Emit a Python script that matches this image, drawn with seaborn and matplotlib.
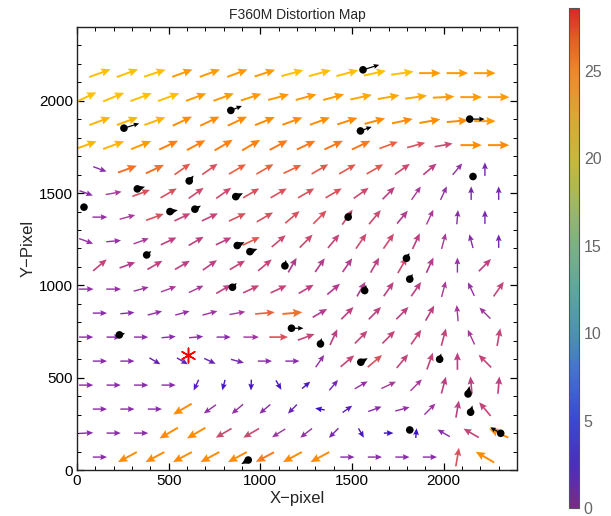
import numpy as np
import pandas as pd
import matplotlib
matplotlib.use("Agg")
import matplotlib.pyplot as plt
import seaborn as sns
from matplotlib.colors import LinearSegmentedColormap, Normalize
from matplotlib.cm import ScalarMappable
from matplotlib.ticker import MultipleLocator

sns.set_style("ticks")
plt.rcParams["font.family"] = ["Liberation Sans", "DejaVu Sans"]

# =========================
# Data
# =========================

# grid rows (y pixel) and the two staggered column sets
row_y = [70, 200, 330, 460, 590, 720, 850, 980, 1110, 1240, 1370, 1500,
         1630, 1760, 1890, 2020, 2150]
x_even = [125, 275, 425, 575, 725, 875, 1025, 1175, 1325, 1475, 1625, 1775,
          1925, 2075, 2225]
x_odd = [50, 200, 350, 500, 650, 800, 950, 1100, 1250, 1400, 1550, 1700,
         1850, 2000, 2150, 2300]

# direction (deg) of each distortion vector, bottom row first
angle_deg = [
    [0, 208, 208, 208, 208, 208, 208, 208, 208, 0, 0, 0, 0, 80, 150],
    [3, 0, 0, 210, 210, 210, 210, 212, 218, 225, 300, 0, 85, 150, 150, 155],
    [0, 0, 0, 210, 215, 220, 220, 225, 170, 35, 20, 15, 45, 80, 130],
    [0, 0, 0, 0, 245, 255, 268, 300, 40, 50, 30, 25, 45, 75, 95, 85],
    [0, 0, -30, -30, -25, -15, 0, 0, 55, 40, 40, 50, 70, 90, 135],
    [0, 0, 0, 5, 5, 0, 0, 0, 20, 65, 45, 45, 55, 75, 115, 80],
    [0, 5, 15, 15, 15, 10, 5, 5, 30, 45, 45, 45, 60, 95, 135],
    [0, 0, 15, 20, 25, 30, 25, 25, 30, 40, 60, 55, 55, 75, 115, 55],
    [40, 20, 30, 30, 35, 30, 40, 60, 55, 55, 60, 60, 65, 90, 45],
    [-20, 5, 20, 25, 30, 25, 25, 40, 45, 50, 55, 55, 65, 75, 105, 90],
    [0, 15, 20, 25, 25, 25, 30, 40, 45, 55, 50, 50, 65, 85, 90],
    [-20, 10, 20, 30, 35, 35, 30, 30, 30, 30, 35, 45, 55, 65, 90, 90],
    [-20, 20, 25, 35, 35, 30, 30, 25, 30, 30, 30, 35, 40, 50, 90],
    [20, 20, 22, 25, 28, 30, 30, 28, 25, 25, 25, 20, 15, 10, 0, 0],
    [20, 20, 20, 25, 25, 25, 22, 20, 20, 18, 15, 12, 10, 5, 0],
    [25, 22, 20, 20, 20, 20, 18, 15, 15, 15, 12, 10, 8, 3, 0, 0],
    [20, 20, 18, 20, 20, 20, 18, 15, 15, 15, 12, 8, 0, 0, 0],
]

# size of each distortion vector
magnitude = [
    [8, 22, 22, 22, 22, 22, 20, 22, 22, 8, 8, 8, 8, 16, 22],
    [8, 8, 8, 22, 22, 15, 15, 10, 9, 7, 4, 3, 3, 8, 14, 22],
    [8, 8, 8, 22, 9, 9, 8, 6, 3, 5, 8, 9, 10, 13, 14],
    [8, 8, 8, 8, 5, 4, 4, 4, 4, 7, 9, 11, 11, 13, 13, 13],
    [8, 8, 6, 6, 6, 7, 8, 8, 9, 14, 16, 14, 14, 13, 14],
    [8, 8, 8, 8, 8, 8, 10, 16, 14, 13, 14, 14, 14, 14, 11, 14],
    [8, 8, 9, 9, 10, 11, 18, 19, 12, 13, 13, 13, 13, 11, 10],
    [9, 9, 10, 11, 11, 13, 14, 14, 13, 12, 12, 13, 13, 11, 9, 14],
    [14, 12, 13, 13, 13, 14, 14, 12, 12, 12, 13, 15, 12, 9, 13],
    [9, 9, 11, 13, 13, 13, 17, 15, 15, 14, 15, 15, 13, 11, 8, 7],
    [9, 11, 16, 14, 14, 16, 16, 16, 16, 15, 15, 12, 11, 8, 7],
    [8, 11, 16, 16, 15, 15, 16, 16, 16, 16, 15, 13, 11, 9, 7, 7],
    [8, 19, 19, 17, 16, 18, 18, 18, 17, 17, 17, 15, 13, 9, 7],
    [25, 25, 23, 21, 21, 21, 21, 20, 20, 20, 20, 18, 16, 15, 22, 22],
    [25, 25, 25, 22, 22, 22, 22, 22, 22, 22, 22, 22, 22, 22, 23],
    [26, 26, 26, 26, 23, 23, 23, 23, 23, 23, 24, 24, 24, 23, 23, 23],
    [26, 26, 26, 23, 23, 23, 23, 26, 26, 26, 26, 26, 23, 23, 23],
]

# measured stars (black dots) and their offsets
star_x = [1560, 2142, 839, 256, 1546, 2160, 612, 329, 866, 38, 507, 643, 1479,
          874, 943, 380, 1134, 1797, 1815, 848, 1569, 1170, 231, 1328, 1548,
          1978, 2133, 2147, 1815, 2311, 934]
star_y = [2168, 1901, 1948, 1852, 1837, 1590, 1566, 1523, 1481, 1424, 1400,
          1413, 1370, 1216, 1183, 1165, 1106, 1147, 1034, 990, 972, 768, 732,
          683, 584, 600, 412, 313, 217, 199, 54]
star_ang = [17, 0, 22, 17, 20, 0, 50, 15, 25, 0, 10, 30, 55, 25, 20, 40, 80,
            60, 60, 45, 75, 0, 15, 80, 30, 75, 80, 75, 0, 150, 210]
star_shift = [17, 15, 12, 16, 12, 0, 7, 8, 8, 0, 8, 7, 6, 8, 8, 6, 6, 6, 6, 6,
              6, 12, 6, 6, 8, 6, 8, 7, 4, 12, 8]

# reference position
ref_x = [607]
ref_y = [623]

# =========================
# Build table
# =========================

rows = []
for i, y in enumerate(row_y):
    xs = x_even if i % 2 == 0 else x_odd
    for x, a, m in zip(xs, angle_deg[i], magnitude[i]):
        rows.append((x, y, a, m))
df = pd.DataFrame(rows, columns=["x", "y", "ang", "mag"])

# arrow length grows slower than the magnitude (like the original)
px = 1 / 0.184
df["len"] = 6.2 * df["mag"] ** 0.4 * px
df["u"] = df["len"] * np.cos(np.radians(df["ang"]))
df["v"] = df["len"] * np.sin(np.radians(df["ang"]))

stars = pd.DataFrame({"x": star_x, "y": star_y, "ang": star_ang,
                      "shift": star_shift})
stars["u"] = stars["shift"] * px * np.cos(np.radians(stars["ang"]))
stars["v"] = stars["shift"] * px * np.sin(np.radians(stars["ang"]))

# =========================
# Colours
# =========================

vmax = 28.6
arrow_stops = [(0, "#2a0cc0"), (3, "#3b12c6"), (6, "#6a22b8"), (8, "#8a2caa"),
               (11, "#a8389a"), (13, "#bc4082"), (15, "#cc4a70"),
               (16, "#d8525e"), (18, "#ea6040"), (19, "#f2702c"),
               (21, "#ff8010"), (22, "#ff8c00"), (23, "#ff9a00"),
               (24, "#ffa800"), (26, "#ffc000"), (vmax, "#ffd000")]
arrow_cmap = LinearSegmentedColormap.from_list(
    "arrows", [(v / vmax, c) for v, c in arrow_stops])

bar_stops = [(0, "#7a2a8a"), (2.5, "#4a30b8"), (5, "#3a4ad0"), (8, "#4078c8"),
             (10, "#4a92b4"), (12.5, "#5aa89c"), (15, "#7ab284"),
             (17.5, "#a2b85e"), (20, "#c8b640"), (22.5, "#e0a438"),
             (25, "#e88a30"), (27, "#e05a28"), (vmax, "#d82a20")]
bar_cmap = LinearSegmentedColormap.from_list(
    "rainbow_mma", [(v / vmax, c) for v, c in bar_stops])
norm = Normalize(0, vmax)

# =========================
# Plot
# =========================

fig = plt.figure(figsize=(6.11, 5.16), dpi=100)
ax = fig.add_axes([77 / 611, 46 / 516, 440 / 611, 443 / 516])
cax = fig.add_axes([569 / 611, 8 / 516, 10 / 611, 500 / 516])

# thin arrows for small vectors, thicker for big ones
groups = [(df["mag"] < 12, 0.0032), ((df["mag"] >= 12) & (df["mag"] < 19), 0.0038),
          (df["mag"] >= 19, 0.0045)]
for mask, w in groups:
    d = df[mask]
    ax.quiver(d["x"], d["y"], d["u"], d["v"], color=arrow_cmap(norm(d["mag"])),
              angles="xy", scale_units="xy", scale=1, pivot="middle",
              width=w, headwidth=4.2, headlength=4.8, headaxislength=4.2,
              minlength=0, zorder=2)

ax.quiver(stars["x"], stars["y"], stars["u"], stars["v"], color="black",
          angles="xy", scale_units="xy", scale=1, pivot="tail",
          width=0.0028, headwidth=4, headlength=4.5, headaxislength=4,
          minlength=0, zorder=4)
sns.scatterplot(data=stars, x="x", y="y", color="black", s=30,
                edgecolor="none", ax=ax, zorder=5, legend=False)
sns.scatterplot(x=ref_x, y=ref_y, marker=(6, 2, 0), color="red", s=110,
                linewidth=1.1, ax=ax, zorder=5, legend=False)

ax.set_xlim(0, 2400)
ax.set_ylim(0, 2400)
ax.xaxis.set_major_locator(MultipleLocator(500))
ax.yaxis.set_major_locator(MultipleLocator(500))
ax.xaxis.set_minor_locator(MultipleLocator(100))
ax.yaxis.set_minor_locator(MultipleLocator(100))
ax.tick_params(which="both", direction="in", top=True, right=True,
               labelsize=11, colors="black", pad=3)
ax.tick_params(which="major", length=5, width=0.9)
ax.tick_params(which="minor", length=3, width=0.7)
for s in ax.spines.values():
    s.set_linewidth(1.0)
    s.set_color("#222222")

ax.set_title("F360M Distortion Map", fontsize=10, pad=6)
ax.set_xlabel("X\u2212pixel", fontsize=12, labelpad=2)
ax.set_ylabel("Y\u2212Pixel", fontsize=12, labelpad=2)

sm = ScalarMappable(norm=norm, cmap=bar_cmap)
cb = fig.colorbar(sm, cax=cax)
cb.set_ticks([0, 5, 10, 15, 20, 25])
cb.ax.yaxis.set_minor_locator(MultipleLocator(1))
cb.ax.tick_params(which="both", direction="in", colors="#777777",
                  labelsize=11.5, labelcolor="#666666")
cb.ax.tick_params(which="major", length=4)
cb.ax.tick_params(which="minor", length=2)
cb.outline.set_edgecolor("#555555")
cb.outline.set_linewidth(0.8)

fig.savefig("out.png", dpi=100)
